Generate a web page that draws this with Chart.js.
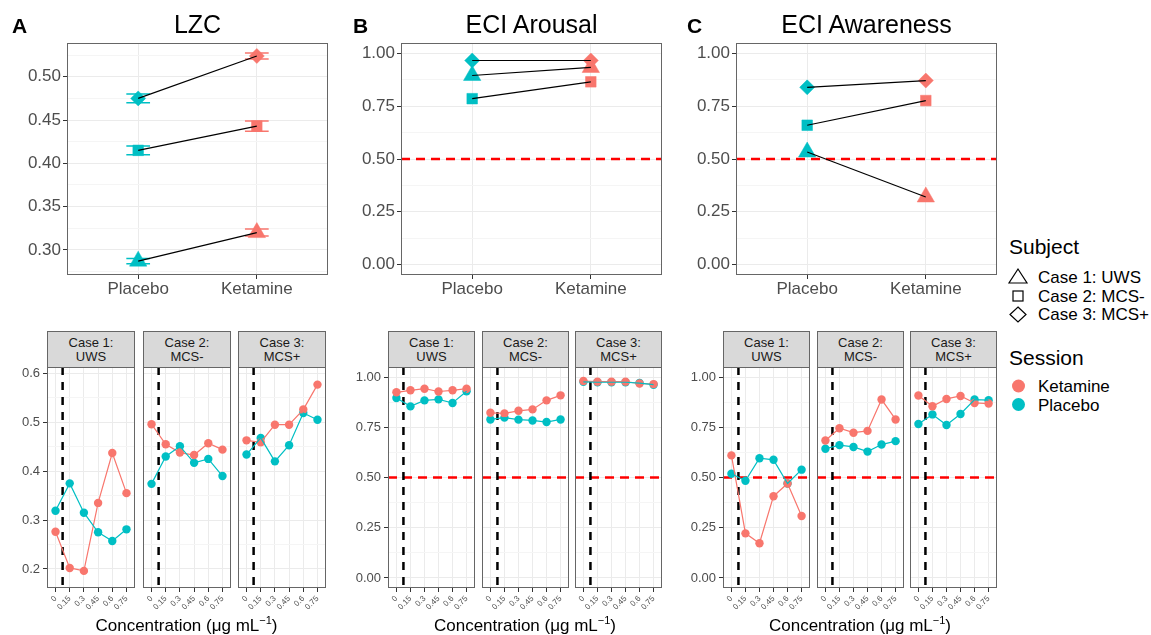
<!DOCTYPE html>
<html>
<head>
<meta charset="utf-8">
<script src="https://cdn.jsdelivr.net/npm/chart.js@4.4.1/dist/chart.umd.min.js"></script>
<style>
  body { margin: 0; background: #fff; width: 1151px; height: 635px; position: relative; overflow: hidden;
         font-family: "Liberation Sans", Arial, sans-serif; }
  canvas { position: absolute; }
  .t { position: absolute; white-space: nowrap; color: #000; }
  .strip { position: absolute; box-sizing: border-box; background: #D9D9D9; border: 1px solid #666;
           color: #1A1A1A; font-size: 13px; line-height: 13.5px; text-align: center; padding-top: 4px; }
  sup { font-size: 11px; position: relative; top: -7px; vertical-align: baseline; }
</style>
</head>
<body>
<script>
// ---- data ----
const sessions = ['Placebo', 'Ketamine'];
const subjects = ['Case 1: UWS', 'Case 2: MCS-', 'Case 3: MCS+'];
const stripLabels = [['Case 1:', 'UWS'], ['Case 2:', 'MCS-'], ['Case 3:', 'MCS+']];
const concentrations = ['0', '0.15', '0.3', '0.45', '0.6', '0.75'];

// top row, per subject: [Placebo, Ketamine]
const lzcMean = [[0.287, 0.320], [0.415, 0.443], [0.475, 0.524]];
const lzcErr = [[0.003, 0.004], [0.005, 0.006], [0.005, 0.0035]];
const arousalMean = [[0.896, 0.934], [0.786, 0.866], [0.967, 0.967]];
const awarenessMean = [[0.533, 0.320], [0.660, 0.777], [0.840, 0.872]];

// bottom row, per subject, one value per concentration
const lzcKetamine = [
  [0.276, 0.202, 0.196, 0.335, 0.437, 0.355],
  [0.496, 0.455, 0.438, 0.433, 0.457, 0.444],
  [0.463, 0.459, 0.495, 0.495, 0.526, 0.577]
];
const lzcPlacebo = [
  [0.319, 0.375, 0.315, 0.275, 0.257, 0.281],
  [0.374, 0.430, 0.451, 0.417, 0.425, 0.390],
  [0.434, 0.468, 0.420, 0.453, 0.519, 0.505]
];
const arousalKetamine = [
  [0.924, 0.934, 0.942, 0.928, 0.934, 0.942],
  [0.822, 0.819, 0.832, 0.839, 0.884, 0.909],
  [0.980, 0.977, 0.977, 0.977, 0.968, 0.965]
];
const arousalPlacebo = [
  [0.896, 0.854, 0.884, 0.889, 0.871, 0.929],
  [0.789, 0.798, 0.788, 0.784, 0.776, 0.789],
  [0.976, 0.974, 0.974, 0.974, 0.970, 0.962]
];
const awarenessKetamine = [
  [0.610, 0.222, 0.173, 0.407, 0.470, 0.308],
  [0.684, 0.745, 0.723, 0.732, 0.888, 0.789],
  [0.908, 0.855, 0.891, 0.906, 0.871, 0.868]
];
const awarenessPlacebo = [
  [0.519, 0.484, 0.596, 0.588, 0.470, 0.539],
  [0.643, 0.661, 0.652, 0.629, 0.664, 0.681],
  [0.766, 0.814, 0.761, 0.816, 0.888, 0.885]
];

const eciTicks = [0, 0.25, 0.5, 0.75, 1];
const eciMinor = [0.125, 0.375, 0.625, 0.875];
const lzcTopTicks = [0.30, 0.35, 0.40, 0.45, 0.50];
const lzcTopMinor = [0.275, 0.325, 0.375, 0.425, 0.475, 0.525];
const lzcBottomTicks = [0.2, 0.3, 0.4, 0.5, 0.6];
const lzcBottomMinor = [0.25, 0.35, 0.45, 0.55];

// ---- style ----
const KET = '#F8766D', PLA = '#00BFC4';
const sessionColors = [PLA, KET];
const shapes = ['triangle', 'rect', 'rectRot'];
const shapeSize = [10, 7.5, 7.5];
const PAD = 12;

Chart.defaults.font.family = '"Liberation Sans", Arial, sans-serif';
Chart.defaults.animation = false;
Chart.defaults.responsive = false;
Chart.defaults.devicePixelRatio = 1;
Chart.defaults.plugins.legend.display = false;
Chart.defaults.plugins.tooltip.enabled = false;

const frame = {
  id: 'frame',
  afterDraw(chart) {
    const a = chart.chartArea, ctx = chart.ctx;
    ctx.save();
    ctx.strokeStyle = '#666';
    ctx.lineWidth = 1;
    ctx.strokeRect(Math.round(a.left) + 0.5, Math.round(a.top) + 0.5,
                   Math.round(a.right - a.left) - 1, Math.round(a.bottom - a.top) - 1);
    ctx.restore();
  }
};

const refLines = {
  id: 'refLines',
  beforeDatasetsDraw(chart, args, opts) {
    const a = chart.chartArea, ctx = chart.ctx;
    const xs = chart.scales.x, ys = chart.scales.y;
    ctx.save();
    ctx.beginPath();
    ctx.rect(a.left, a.top, a.right - a.left, a.bottom - a.top);
    ctx.clip();
    (opts.h || []).forEach(v => {
      const y = ys.getPixelForValue(v);
      ctx.strokeStyle = '#FF0000'; ctx.lineWidth = 2.3; ctx.setLineDash([9, 6]);
      ctx.beginPath(); ctx.moveTo(a.left, y); ctx.lineTo(a.right, y); ctx.stroke();
    });
    (opts.v || []).forEach(v => {
      const x = xs.getPixelForValue(v);
      ctx.strokeStyle = '#000'; ctx.lineWidth = 2.5; ctx.setLineDash([8, 7]);
      ctx.beginPath(); ctx.moveTo(x, a.top); ctx.lineTo(x, a.bottom); ctx.stroke();
    });
    ctx.restore();
  }
};

const errorBars = {
  id: 'errorBars',
  beforeDatasetsDraw(chart) {
    const ctx = chart.ctx, xs = chart.scales.x, ys = chart.scales.y;
    ctx.save();
    chart.data.datasets.forEach(ds => {
      if (!ds.errors) return;
      ds.data.forEach((p, i) => {
        const e = ds.errors[i];
        const x = xs.getPixelForValue(p.x);
        const x0 = xs.getPixelForValue(p.x - 0.1), x1 = xs.getPixelForValue(p.x + 0.1);
        const yTop = ys.getPixelForValue(p.y + e), yBot = ys.getPixelForValue(p.y - e);
        ctx.strokeStyle = sessionColors[i];
        ctx.lineWidth = 1.5;
        ctx.beginPath();
        ctx.moveTo(x0, yTop); ctx.lineTo(x1, yTop);
        ctx.moveTo(x0, yBot); ctx.lineTo(x1, yBot);
        ctx.moveTo(x, yTop); ctx.lineTo(x, yBot);
        ctx.stroke();
      });
    });
    ctx.restore();
  }
};

function makeCanvas(r, L, B) {
  const c = document.createElement('canvas');
  c.width = L + r.w + PAD;
  c.height = PAD + r.h + B;
  c.style.left = (r.x - L) + 'px';
  c.style.top = (r.y - PAD) + 'px';
  document.body.appendChild(c);
  return c;
}

function isIn(list, v) {
  return list.some(m => Math.abs(m - v) < 1e-9);
}

function yScale(min, max, majors, minors, dec, showLabels, L, fontSize, pad) {
  const all = majors.concat(minors).sort((a, b) => a - b);
  return {
    type: 'linear', min: min, max: max,
    afterBuildTicks: s => { s.ticks = all.map(v => ({ value: v })); },
    afterFit: s => { s.width = L; s.paddingTop = 0; s.paddingBottom = 0; },
    border: { display: false },
    grid: {
      color: c => isIn(majors, c.tick.value) ? '#EBEBEB' : '#F5F5F5',
      lineWidth: 1,
      tickColor: c => (showLabels && isIn(majors, c.tick.value)) ? '#333' : 'rgba(0,0,0,0)',
      tickLength: 4
    },
    ticks: {
      autoSkip: false, padding: pad, color: '#4D4D4D', font: { size: fontSize },
      callback: v => (showLabels && isIn(majors, v)) ? v.toFixed(dec) : ''
    }
  };
}

function xScale(labels, B, fontSize, rotation, pad) {
  return {
    type: 'linear', min: 0.4, max: labels.length + 0.6,
    afterBuildTicks: s => { s.ticks = labels.map((_, i) => ({ value: i + 1 })); },
    afterFit: s => { s.height = B; s.paddingLeft = 0; s.paddingRight = 0; },
    border: { display: false },
    grid: { color: '#EBEBEB', lineWidth: 1, tickColor: '#333', tickLength: 4 },
    ticks: {
      autoSkip: false, padding: pad, color: '#4D4D4D', font: { size: fontSize },
      minRotation: rotation, maxRotation: rotation,
      callback: v => labels[Math.round(v) - 1]
    }
  };
}

function topChart(rect, L, means, errs, yMin, yMax, majors, minors, dec, hLines) {
  const canvas = makeCanvas(rect, L, 32);
  const datasets = [];
  means.forEach(m => datasets.push({
    data: m.map((v, i) => ({ x: i + 1, y: v })),
    borderColor: '#000', borderWidth: 1.2, pointRadius: 0, showLine: true
  }));
  means.forEach((m, s) => datasets.push({
    data: m.map((v, i) => ({ x: i + 1, y: v })),
    showLine: false, pointStyle: shapes[s], pointRadius: shapeSize[s],
    pointBackgroundColor: sessionColors, pointBorderColor: sessionColors, pointBorderWidth: 0.5,
    errors: errs ? errs[s] : null
  }));
  new Chart(canvas, {
    type: 'line',
    data: { datasets: datasets },
    options: {
      layout: { padding: { top: PAD, right: PAD, left: 0, bottom: 0 } },
      scales: {
        x: xScale(sessions, 32, 17, 0, 0),
        y: yScale(yMin, yMax, majors, minors, dec, true, L, 17, 2)
      },
      plugins: { refLines: { h: hLines } }
    },
    plugins: [refLines, errorBars, frame]
  });
}

function facetChart(rect, L, ket, pla, yMin, yMax, majors, minors, dec, showY, hLines) {
  const canvas = makeCanvas(rect, L, 36);
  const pts = vals => vals.map((v, i) => ({ x: i + 1, y: v }));
  const datasets = [
    { data: pts(pla), borderColor: PLA, borderWidth: 1.2, pointRadius: 0, showLine: true },
    { data: pts(ket), borderColor: KET, borderWidth: 1.2, pointRadius: 0, showLine: true },
    { data: pts(ket), showLine: false, pointRadius: 4.2, pointBackgroundColor: KET, pointBorderWidth: 0 },
    { data: pts(pla), showLine: false, pointRadius: 4.2, pointBackgroundColor: PLA, pointBorderWidth: 0 }
  ];
  new Chart(canvas, {
    type: 'line',
    data: { datasets: datasets },
    options: {
      layout: { padding: { top: PAD, right: PAD, left: 0, bottom: 0 } },
      scales: {
        x: xScale(concentrations, 36, 8, 45, 2),
        y: yScale(yMin, yMax, majors, minors, dec, showY, L, 13, 3)
      },
      plugins: { refLines: { h: hLines, v: [1.5] } }
    },
    plugins: [refLines, frame]
  });
}

function text(str, x, y, size, opt) {
  opt = opt || {};
  const d = document.createElement('div');
  d.className = 't';
  d.innerHTML = str;
  d.style.left = x + 'px';
  d.style.top = y + 'px';
  d.style.fontSize = size + 'px';
  d.style.lineHeight = size + 'px';
  d.style.transform = opt.center ? 'translate(-50%,-50%)' : 'translateY(-50%)';
  if (opt.bold) d.style.fontWeight = 'bold';
  if (opt.color) d.style.color = opt.color;
  document.body.appendChild(d);
}

function strip(x, w, lines) {
  const d = document.createElement('div');
  d.className = 'strip';
  d.style.left = x + 'px'; d.style.top = '331px';
  d.style.width = w + 'px'; d.style.height = '37px';
  d.innerHTML = lines.join('<br>');
  document.body.appendChild(d);
}

// ---- top row ----
topChart({ x: 67, y: 43, w: 261, h: 232 }, 45, lzcMean, lzcErr, 0.271, 0.539, lzcTopTicks, lzcTopMinor, 2, []);
topChart({ x: 401, y: 43, w: 261, h: 232 }, 50, arousalMean, null, -0.05, 1.05, eciTicks, eciMinor, 2, [0.5]);
topChart({ x: 736, y: 43, w: 261, h: 232 }, 50, awarenessMean, null, -0.05, 1.05, eciTicks, eciMinor, 2, [0.5]);

text('A', 12, 25, 21, { bold: true });
text('LZC', 197.5, 24, 25, { center: true });
text('B', 353, 25, 21, { bold: true });
text('ECI Arousal', 531.5, 24, 25, { center: true });
text('C', 687, 25, 21, { bold: true });
text('ECI Awareness', 866.5, 24, 25, { center: true });

// ---- bottom row ----
const groups = [
  { xs: [47, 143, 238], w: 88, ket: lzcKetamine, pla: lzcPlacebo, min: 0.161, max: 0.613,
    majors: lzcBottomTicks, minors: lzcBottomMinor, dec: 1, h: [] },
  { xs: [388, 482, 575], w: 87, ket: arousalKetamine, pla: arousalPlacebo, min: -0.05, max: 1.05,
    majors: eciTicks, minors: eciMinor, dec: 2, h: [0.5] },
  { xs: [723, 817, 910], w: 87, ket: awarenessKetamine, pla: awarenessPlacebo, min: -0.05, max: 1.05,
    majors: eciTicks, minors: eciMinor, dec: 2, h: [0.5] }
];

groups.forEach(g => {
  g.xs.forEach((x, s) => {
    facetChart({ x: x, y: 367, w: g.w, h: 221 }, 42, g.ket[s], g.pla[s], g.min, g.max,
               g.majors, g.minors, g.dec, s === 0, g.h);
    strip(x, g.w, stripLabels[s]);
  });
  const mid = (g.xs[0] + g.xs[2] + g.w) / 2;
  text('Concentration (μg mL<sup>−1</sup>)', mid, 626, 17, { center: true });
});

// ---- legends ----
text('Subject', 1009, 246, 21);
subjects.forEach((s, i) => text(s, 1038, 277 + i * 18.7, 17));
text('Session', 1009, 357, 21);
['Ketamine', 'Placebo'].forEach((s, i) => text(s, 1038, 386 + i * 18.6, 17));

const svgNS = 'http://www.w3.org/2000/svg';
const svg = document.createElementNS(svgNS, 'svg');
svg.setAttribute('width', '40');
svg.setAttribute('height', '160');
svg.style.position = 'absolute';
svg.style.left = '1000px';
svg.style.top = '260px';
svg.innerHTML =
  '<polygon points="18,9 9,23 27,23" fill="none" stroke="#000" stroke-width="1.2"/>' +
  '<rect x="13" y="31" width="10" height="10" fill="none" stroke="#000" stroke-width="1.2"/>' +
  '<polygon points="18,47 26,54.5 18,62 10,54.5" fill="none" stroke="#000" stroke-width="1.2"/>' +
  '<circle cx="18.5" cy="126" r="6.5" fill="' + KET + '"/>' +
  '<circle cx="18.5" cy="144.5" r="6.5" fill="' + PLA + '"/>';
document.body.appendChild(svg);
</script>
</body>
</html>
